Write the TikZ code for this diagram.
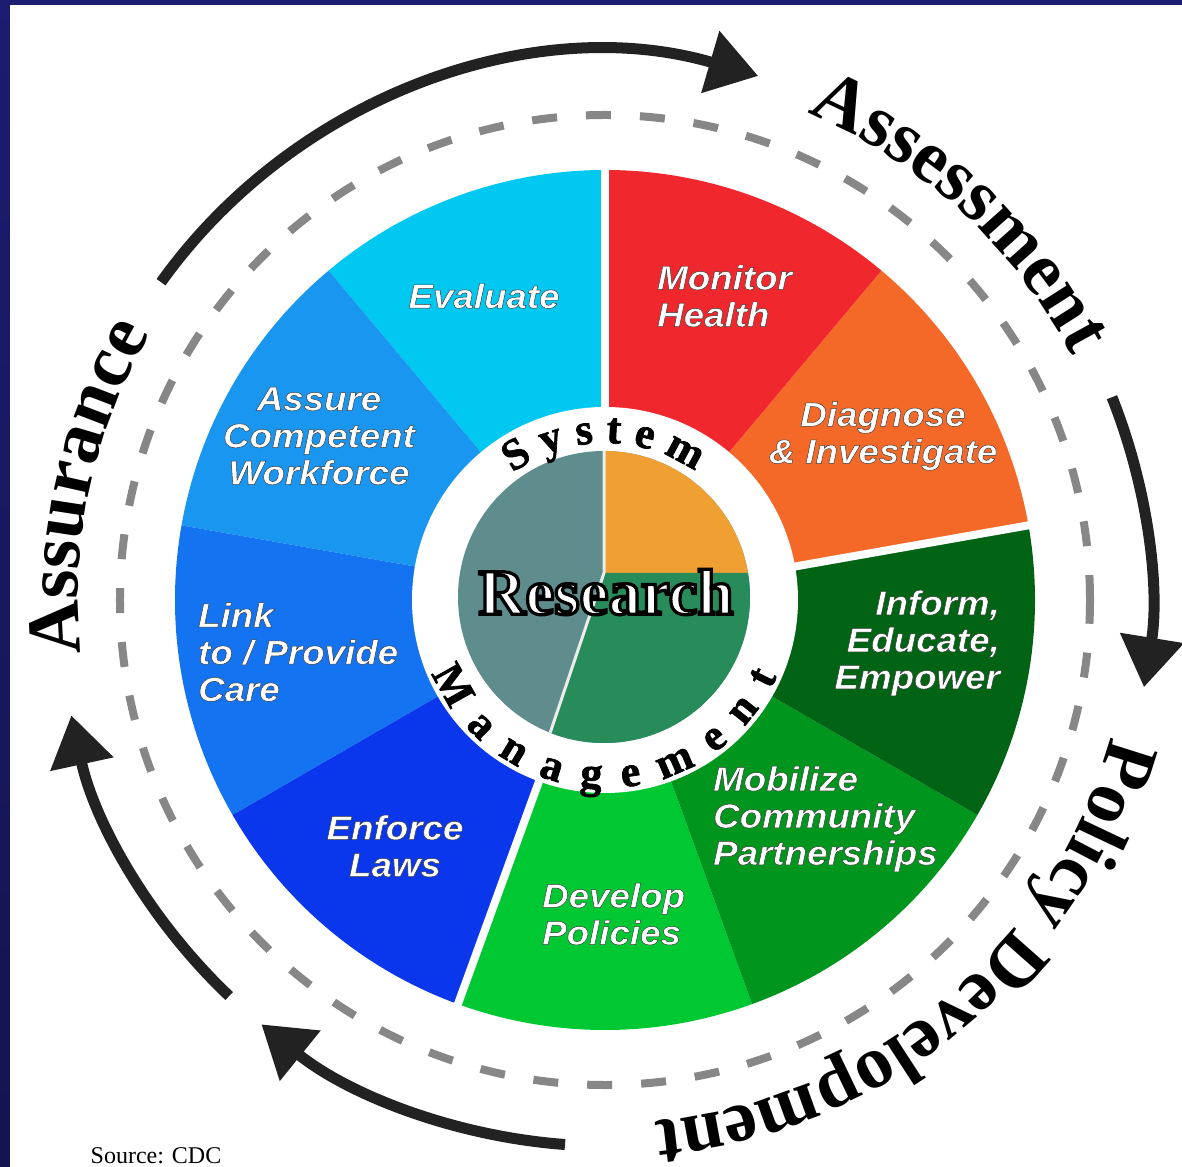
\documentclass[tikz,border=0pt]{standalone}
\usepackage{fontspec}
\setmainfont{Liberation Serif}
\newfontfamily\lblfont{Liberation Sans}[FakeStretch=1.08, BoldItalicFeatures={FakeBold=1.4}]
\newfontfamily\resfont{Liberation Serif}[BoldFeatures={FakeBold=5}]
\newfontfamily\ringfont{Liberation Serif}[BoldFeatures={FakeBold=1.5}]
\usetikzlibrary{decorations.text, arrows.meta}
\definecolor{cEval}{RGB}{0,200,240}
\definecolor{cAssure}{RGB}{25,150,240}
\definecolor{cLink}{RGB}{20,115,240}
\definecolor{cEnforce}{RGB}{10,55,235}
\definecolor{cDevelop}{RGB}{0,200,50}
\definecolor{cMobil}{RGB}{0,150,30}
\definecolor{cInform}{RGB}{0,100,20}
\definecolor{cDiag}{RGB}{245,105,40}
\definecolor{cMonitor}{RGB}{240,40,45}
\definecolor{cInGray}{RGB}{95,140,140}
\definecolor{cInOrange}{RGB}{240,160,50}
\definecolor{cInGreen}{RGB}{40,140,90}
\definecolor{cArrow}{RGB}{34,34,34}
\definecolor{cDash}{RGB}{135,135,135}
\definecolor{cNavy}{RGB}{28,28,112}
\definecolor{cNavyMid}{RGB}{52,52,200}
\definecolor{cNavyBot}{RGB}{20,20,80}
\newcommand\wl[1]{\special{pdf:bcolor [1 1 1] [0.22 0.22 0.22]}#1\special{pdf:ecolor}}
\newcommand\rl[1]{\special{pdf:bcolor [1 1 1] [0 0 0]}#1\special{pdf:ecolor}}
\tikzset{
  seglabel/.style={inner sep=0pt, font=\lblfont\bfseries\itshape\fontsize{34}{37}\selectfont},
  cyclearrow/.style={draw=cArrow, line width=11pt, -{Triangle[length=50pt,width=62pt]}},
  ringtext/.style={decorate, decoration={text along path, text align=fit to path, text={|\ringfont\bfseries\fontsize{44}{44}\selectfont|#1}}},
  outertext/.style={decorate, decoration={text along path, text align=center, text={|\bfseries\fontsize{75}{75}\selectfont|#1}}}
}
\begin{document}
\begin{tikzpicture}[x=1pt,y=1pt]
\useasboundingbox (-605,-566) rectangle (577,600);
\fill[white] (-605,-566) rectangle (577,600);
% frame
\shade[top color=cNavy, middle color=cNavyMid, bottom color=cNavyBot] (-605,-566) rectangle (-595,600);
\fill[cNavy] (-605,595) rectangle (577,600);
% outer segments
\foreach \a/\b/\c in {90/130/cEval,130/170/cAssure,170/210/cLink,210/250/cEnforce,250/290/cDevelop,290/330/cMobil,330/370/cInform,10/50/cDiag,50/90/cMonitor}
  \fill[\c] (0,0) -- (\a:430) arc[start angle=\a, end angle=\b, radius=430] -- cycle;
\foreach \a in {90,10,250}
  \draw[white, line width=8pt] (0,0) -- (\a:436);
% white ring
\fill[white] (0,0) circle (193);
% inner pie
\begin{scope}
  \clip (-1,3) circle (146);
  \fill[cInGray] (-200,-200) rectangle (200,200);
  \fill[cInOrange] (-1,27) rectangle (200,200);
  \fill[cInGreen] (-1,27) -- (200,27) -- (200,-200) -- (-77.5,-200) -- cycle;
  \draw[white!85!gray, line width=3pt] (-1,27) -- (-1,200) (-1,27) -- (-77.5,-200);
\end{scope}
\node[inner sep=0pt, font=\resfont\bfseries\fontsize{65}{65}\selectfont] (research) at (1,8) {\rl{Research}};
\path[ringtext={System}] (126:157) arc[start angle=126, end angle=55, radius=157];
\path[ringtext={Management}] (203:188) arc[start angle=203, end angle=336, radius=188];
% dashed ring
\draw[cDash, line width=8pt, dash pattern=on 25pt off 29pt] (0,0) circle (485);
% cycle arrows
\draw[cyclearrow] (144.4:546) arc[start angle=144.4, end angle=73.7, radius=546];
\draw[cyclearrow] (21.8:546) arc[start angle=21.8, end angle=-9.2, radius=546];
\draw[cyclearrow] (265.8:546) arc[start angle=265.8, end angle=231, radius=546];
\draw[cyclearrow] (226.5:546) arc[start angle=226.5, end angle=192.2, radius=546];
% outer words
\path[outertext={Assessment}] (97.5:527) arc[start angle=97.5, end angle=-2.5, radius=527];
\path[outertext={Assurance}] (217.7:527) arc[start angle=217.7, end angle=117.7, radius=527];
\path[outertext={Policy Development}] (0.2:524) arc[start angle=0.2, end angle=-99.8, radius=524];
% segment labels
\node[seglabel] (evaluate) at (-121,304) {\wl{Evaluate}};
\node[seglabel, anchor=west, align=left] (monitor) at (52,304) {\wl{Monitor}\\\wl{Health}};
\node[seglabel, align=center] (diagnose) at (278,164) {\wl{Diagnose}\\\wl{\& Investigate}};
\node[seglabel, align=center] (assure) at (-286,164) {\wl{Assure}\\\wl{Competent}\\\wl{Workforce}};
\node[seglabel, anchor=west, align=left] (link) at (-407,-52) {\wl{Link}\\\wl{to / Provide}\\\wl{Care}};
\node[seglabel, anchor=east, align=right] (inform) at (395,-43) {\wl{Inform,}\\\wl{Educate,}\\\wl{Empower}};
\node[seglabel, anchor=west, align=left] (mobilize) at (108,-219) {\wl{Mobilize}\\\wl{Community}\\\wl{Partnerships}};
\node[seglabel, align=center] (enforce) at (-210,-246) {\wl{Enforce}\\\wl{Laws}};
\node[seglabel, anchor=west, align=left] (develop) at (-63,-314) {\wl{Develop}\\\wl{Policies}};
\node[anchor=base, inner sep=0pt, font=\fontsize{24}{24}\selectfont] (source) at (-449,-563) {Source: CDC};
\end{tikzpicture}
\end{document}
